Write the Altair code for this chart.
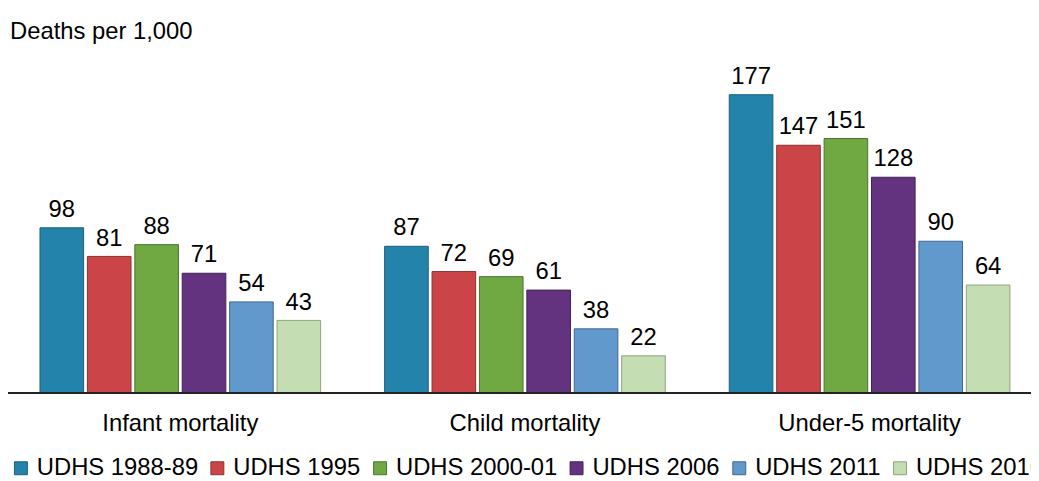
import altair as alt
import pandas as pd

groups = ["Infant mortality", "Child mortality", "Under-5 mortality"]
series = ["UDHS 1988-89", "UDHS 1995", "UDHS 2000-01", "UDHS 2006", "UDHS 2011", "UDHS 2016"]
infant = [98, 81, 88, 71, 54, 43]
child = [87, 72, 69, 61, 38, 22]
under5 = [177, 147, 151, 128, 90, 64]
fills = ["#2383AB", "#CB4548", "#70A842", "#63337F", "#6199CC", "#C4DDB2"]
strokes = ["#1B5E7C", "#8C2E30", "#4C7230", "#412156", "#40688F", "#8FA37F"]

rows = []
for g, vals in zip(groups, [infant, child, under5]):
    for s, v in zip(series, vals):
        rows.append({"group": g, "series": s, "value": v})
df = pd.DataFrame(rows)

FONT = "Liberation Sans"
FS = 24
W, H = 1042, 386

x = alt.X("group:N", sort=groups, title=None,
          scale=alt.Scale(paddingInner=0, paddingOuter=0),
          axis=alt.Axis(domain=False, ticks=False, labelFontSize=FS, labelFont=FONT,
                        labelColor="#000", labelPadding=19, labelAngle=0, labelLimit=400))
xo = alt.XOffset("series:N", sort=series,
                 scale=alt.Scale(paddingInner=0.08, paddingOuter=0.675))
y = alt.Y("value:Q", scale=alt.Scale(domain=[0, 227.4], nice=False), axis=None)

base = alt.Chart(df).encode(x=x, xOffset=xo, y=y)

bars = base.mark_bar(strokeWidth=1).encode(
    fill=alt.Fill("series:N", sort=series, scale=alt.Scale(domain=series, range=fills),
                  legend=alt.Legend(title=None, orient="none", legendX=1, legendY=450,
                                    direction="horizontal", columns=6,
                                    symbolType="square", symbolSize=170,
                                    symbolStrokeWidth=1, labelFontSize=FS, labelFont=FONT,
                                    labelColor="#000", labelOffset=4, columnPadding=7,
                                    labelLimit=300)),
    stroke=alt.Stroke("series:N", sort=series, scale=alt.Scale(domain=series, range=strokes)),
)

labels = base.mark_text(baseline="bottom", dy=-6, fontSize=FS, font=FONT, color="#000").encode(
    text="value:Q")

baseline = alt.Chart(df).mark_rule(color="#222", strokeWidth=1.5).encode(
    y=alt.datum(0), x=alt.value(0), x2=alt.value(W))

title = alt.Chart(pd.DataFrame({"t": ["Deaths per 1,000"]})).mark_text(
    align="left", baseline="alphabetic", fontSize=FS, font=FONT, color="#000").encode(
    x=alt.value(2), y=alt.value(29), text="t:N")

chart = alt.layer(bars, labels, baseline, title).properties(
    width=W, height=H, autosize=alt.AutoSizeParams(type="none"),
    padding={"left": 0, "top": 0, "right": -11, "bottom": 88}
).configure_view(stroke=None)

chart.save("out.html", embed_options={"renderer": "svg", "actions": False})
